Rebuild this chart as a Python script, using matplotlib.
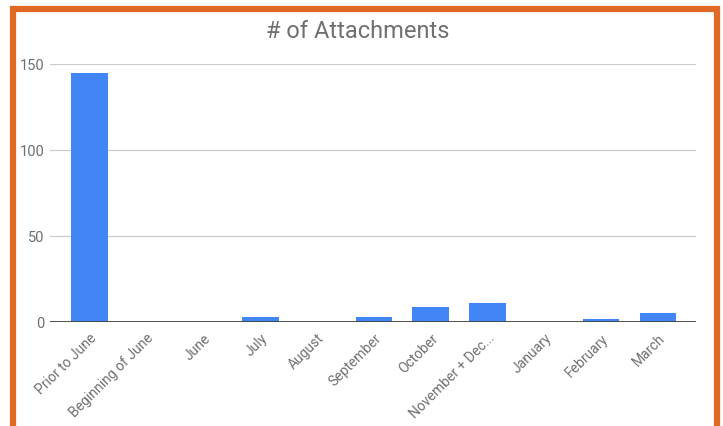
import matplotlib.pyplot as plt
import numpy as np
from matplotlib.patches import Rectangle

plt.rcParams['font.family'] = ['Roboto', 'DejaVu Sans']

# data
months = ['Prior to June', 'Beginning of June', 'June', 'July', 'August',
          'September', 'October', 'November + Dec...', 'January', 'February', 'March']
attachments = [145, 0, 0, 3, 0, 3, 9, 11, 0, 2, 5]
y_ticks = [0, 50, 100, 150]

BAR_COLOR = '#4285F4'
TEXT_GRAY = '#707070'
FRAME_ORANGE = '#E06A25'

fig = plt.figure(figsize=(7.23, 4.27), dpi=100)
fig.patch.set_facecolor('white')

# orange frame around the chart (goes off the bottom edge)
frame = Rectangle((13 / 723, -0.05), 704 / 723, 1 - 10 / 427 + 0.05,
                  transform=fig.transFigure, fill=False,
                  edgecolor=FRAME_ORANGE, linewidth=4.5, zorder=0)
fig.patches.append(frame)

ax = fig.add_axes([50 / 723, (427 - 323) / 427, 646 / 723, 258 / 427])

x = np.arange(len(months))
ax.bar(x, attachments, width=0.646, color=BAR_COLOR, zorder=3)

ax.set_xlim(-0.7, 10.67)
ax.set_ylim(0, 150)
ax.set_yticks(y_ticks)
ax.set_yticklabels([str(v) for v in y_ticks], fontsize=10.5, color=TEXT_GRAY)

ax.set_xticks(x)
ax.set_xticklabels(months, rotation=45, ha='right', rotation_mode='anchor',
                   fontsize=10, color=TEXT_GRAY)
ax.tick_params(axis='both', length=0)
ax.tick_params(axis='x', pad=6)
ax.tick_params(axis='y', pad=4)

# gridlines
ax.yaxis.grid(True, color='#CCCCCC', linewidth=0.9)
ax.set_axisbelow(True)
ax.axhline(0, color='#444444', linewidth=1.3, zorder=4)

for spine in ax.spines.values():
    spine.set_visible(False)

fig.text(0.495, 1 - 32 / 427, '# of Attachments', ha='center', va='center',
         fontsize=17, color=TEXT_GRAY)

plt.savefig('out.png', dpi=100, facecolor='white')
